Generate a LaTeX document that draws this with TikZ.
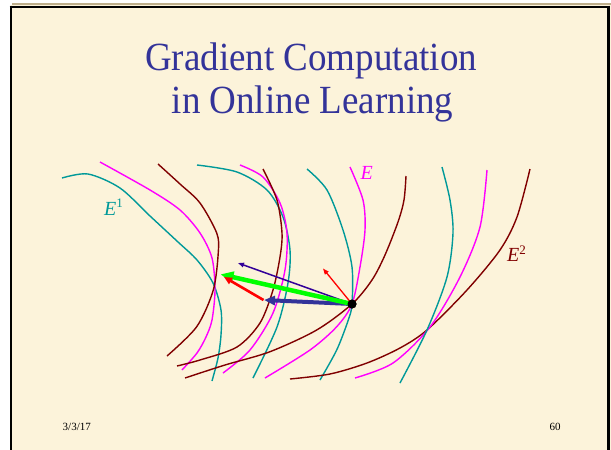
\documentclass[tikz,border=0pt]{standalone}
\usepackage{fontspec}
\setmainfont{Liberation Serif}
\usetikzlibrary{arrows.meta}
\definecolor{cream}{RGB}{252,243,218}
\definecolor{tealc}{RGB}{0,153,153}
\definecolor{magc}{RGB}{255,0,255}
\definecolor{maroonc}{RGB}{128,0,0}
\definecolor{titleblue}{RGB}{51,51,153}
\definecolor{indigoc}{RGB}{51,0,153}
\definecolor{greenc}{RGB}{0,255,0}
\definecolor{tanc}{RGB}{190,175,140}
\begin{document}
\begin{tikzpicture}[x=1pt,y=-1pt,
  lvl/.style={line width=1.4pt},
  txt/.style={inner sep=0pt},
  ttl/.style={inner sep=0pt,anchor=base,font=\fontsize{37}{40}\selectfont,text=titleblue},
  vec/.style={line cap=butt}]
\useasboundingbox (0,0) rectangle (611,450);
\fill[white] (0,0) rectangle (611,450);
\fill[cream] (10,5) rectangle (611,450);
\draw[tanc,line width=1.6pt] (12,4.2) -- (611,4.2);
\draw[black,line width=2pt] (9.5,6.5) -- (609,6.5);
\draw[black,line width=2.6pt] (10.8,5.5) -- (10.8,450);
\draw[black,line width=3pt] (608.8,5.5) -- (608.8,450);

% title
\node[ttl] (t1) at (311,70.5) {\scalebox{1}[1.08]{Gradient Computation}};
\node[ttl] (t2) at (312.5,113) {\scalebox{1}[1.08]{in Online Learning}};

% left group
\draw[lvl,tealc] plot[smooth] coordinates {(62,178) (88,174) (120,188) (150,216) (178,242) (197,260) (213,283) (221,310) (221,335) (218,358) (212,381)};
\draw[lvl,magc] plot[smooth] coordinates {(100,162) (150,190) (180,210) (200,233) (212,258) (215,290) (212,320) (206,337) (197,353) (182,370)};
\draw[lvl,maroonc] plot[smooth] coordinates {(158,164) (180,184) (200,203) (216.7,233) (218.3,252) (213.3,290) (196.7,326.7) (167,356)};

% second group
\draw[lvl,tealc] plot[smooth] coordinates {(197,165) (237,172) (267,190) (283,217) (290,250) (288,283) (277,327) (253,378)};
\draw[lvl,magc] plot[smooth] coordinates {(240,165) (263,177) (280,203) (287,233) (285,270) (273,313) (250,350) (223,373)};
\draw[lvl,maroonc] plot[smooth] coordinates {(263,169) (277,200) (282,233) (280,257) (273,290) (260,323) (237,347) (200,360) (177,366)};

% curves through the point
\draw[lvl,maroonc] plot[smooth] coordinates {(185,378) (225,365) (270,351.7) (316.7,330) (352,304) (372,280) (385,255) (398,222) (404,200) (406,176)};
\draw[lvl,magc] plot[smooth] coordinates {(265,378) (310,350) (336.7,326.7) (352,304) (360,267) (365,230) (363,200) (350,167)};
\draw[lvl,tealc] plot[smooth] coordinates {(307,169) (327,190) (343,230) (352,267) (352,304) (348.3,320) (336.7,350) (320,380)};

% right group
\draw[lvl,maroonc] plot[smooth] coordinates {(290,379) (330,374) (367,363) (400,348) (427,330) (467,290) (500,250) (517,217) (530,169)};
\draw[lvl,magc] plot[smooth] coordinates {(355,378) (393,363) (430,327) (460,277) (480,227) (487,170)};
\draw[lvl,tealc] plot[smooth] coordinates {(400,383) (427,330) (447,277) (453,233) (450,200) (442,167)};

% labels
\node[txt,anchor=base west,text=tealc,font=\fontsize{20}{24}\selectfont] (e1) at (104,215) {\textit{E}\raisebox{0.38em}{\fontsize{13}{13}\selectfont 1}};
\node[txt,anchor=base west,text=magc,font=\fontsize{20}{24}\selectfont] (e) at (360.5,179.3) {\textit{E}};
\node[txt,anchor=base west,text=maroonc,font=\fontsize{20}{24}\selectfont] (e2) at (507,261.7) {\textit{E}\raisebox{0.38em}{\fontsize{13}{13}\selectfont 2}};

% point and vectors
\node[circle,fill=black,inner sep=0pt,minimum size=9pt] (dot) at (352,304) {};
\coordinate (gtip) at (220.5,274.3);
\coordinate (btip) at (264,300);
\coordinate (ptip) at (238,263);
\coordinate (rtip) at (224,277);
\coordinate (rstart) at (263.5,300);
\coordinate (rtip2) at (323,268.5);

\draw[vec,indigoc,line width=1.5pt,-{Triangle[length=6pt,width=4.5pt]}] (dot.center) -- (ptip);
\draw[vec,titleblue,line width=4pt,-{Triangle[length=11pt,width=9pt]}] (dot.center) -- (btip);
\draw[vec,greenc,line width=4.5pt,-{Triangle[length=13pt,width=11pt]}] (dot.center) -- (gtip);
\draw[vec,red,line width=2.6pt,-{Triangle[length=8pt,width=7pt]}] (rstart) -- (rtip);
\draw[vec,red,line width=1.3pt,-{Triangle[length=6pt,width=4.5pt]}] (dot.center) -- (rtip2);
\fill[black] (dot.center) circle (4.5pt);

% footer
\node[txt,anchor=base west,font=\fontsize{11}{13}\selectfont] (date) at (62.5,430.5) {3/3/17};
\node[txt,anchor=base west,font=\fontsize{11}{13}\selectfont] (page) at (549.3,430.5) {60};
\end{tikzpicture}
\end{document}
